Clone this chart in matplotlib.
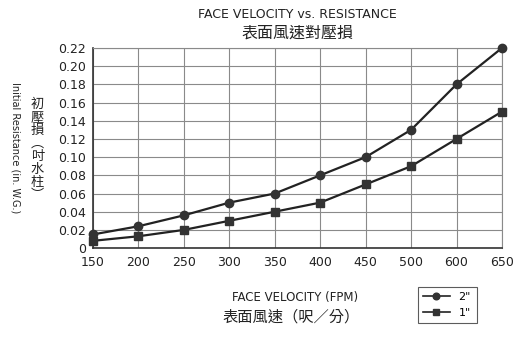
"""Face velocity vs. initial resistance chart for 1" and 2" filters."""

import matplotlib.pyplot as plt
import numpy as np

plt.rcParams["font.family"] = ["DejaVu Sans", "Noto Sans CJK TC"]

LINE = "#222222"
GRID = "#8a8a8a"
CJK = ["Noto Sans CJK TC", "DejaVu Sans"]

velocity = ["150", "200", "250", "300", "350", "400", "450", "500", "600", "650"]
resist_2in = [0.015, 0.024, 0.036, 0.050, 0.060, 0.080, 0.100, 0.130, 0.180, 0.220]
resist_1in = [0.008, 0.013, 0.020, 0.030, 0.040, 0.050, 0.070, 0.090, 0.120, 0.150]
y_ticks = [0, 0.02, 0.04, 0.06, 0.08, 0.10, 0.12, 0.14, 0.16, 0.18, 0.20, 0.22]

fig = plt.figure(figsize=(5.18, 3.38), dpi=100)
ax = fig.add_axes([0.1795, 0.266, 0.7895, 0.592])

x = np.arange(len(velocity))
l2, = ax.plot(x, resist_2in, color=LINE, lw=1.6, marker="o", ms=6,
              mfc="#333333", mec="#333333", label='2"', clip_on=False, zorder=4)
l1, = ax.plot(x, resist_1in, color=LINE, lw=1.6, marker="s", ms=5.5,
              mfc="#333333", mec="#333333", label='1"', clip_on=False, zorder=4)

ax.set_xlim(0, len(velocity) - 1)
ax.set_ylim(0, 0.22)
ax.set_xticks(x)
ax.set_xticklabels(velocity)
ax.set_yticks(y_ticks)
ax.set_yticklabels(["0"] + [f"{v:.2f}" for v in y_ticks[1:]])
ax.tick_params(length=0, labelsize=9, colors="#222222")
ax.tick_params(axis="x", pad=6)
ax.tick_params(axis="y", pad=5)
ax.grid(True, color=GRID, lw=0.8)
ax.set_axisbelow(True)
for side in ("top", "right"):
    ax.spines[side].set_color(GRID)
    ax.spines[side].set_linewidth(0.8)
for side in ("left", "bottom"):
    ax.spines[side].set_color("#333333")
    ax.spines[side].set_linewidth(1.2)

# titles
fig.text(0.575, 0.957, "FACE VELOCITY vs. RESISTANCE", ha="center", va="center",
         fontsize=9, color="#222222")
fig.text(0.575, 0.902, "表面風速對壓損", ha="center", va="center",
         fontsize=11.5, color="#222222", family=CJK)

# axis titles
fig.text(0.448, 0.121, "FACE VELOCITY (FPM)", ha="left", va="center",
         fontsize=8.5, color="#222222")
fig.text(0.43, 0.062, "表面風速（呎／分）", ha="left", va="center",
         fontsize=11, color="#222222", family=CJK)
fig.text(0.029, 0.562, "Initial Resistance (in. W.G.)", rotation=270,
         ha="center", va="center", fontsize=7, color="#222222")

# vertical CJK y label, one character per row
for i, ch in enumerate("初壓損︵吋水柱︶"):
    fig.text(0.072, 0.692 - i * 0.0385, ch, ha="center", va="center",
             fontsize=9.5, color="#222222", family=CJK)

leg = fig.legend(handles=[l2, l1], loc="center", bbox_to_anchor=(0.863, 0.098),
                 fontsize=8, frameon=True, fancybox=False, handlelength=2.4,
                 borderpad=0.5, labelspacing=0.5, handletextpad=0.8,
                 markerscale=0.8)
leg.get_frame().set_edgecolor("#333333")
leg.get_frame().set_linewidth(0.8)
for h in leg.get_lines():
    h.set_linewidth(1.2)

fig.savefig("out.png", dpi=100)
